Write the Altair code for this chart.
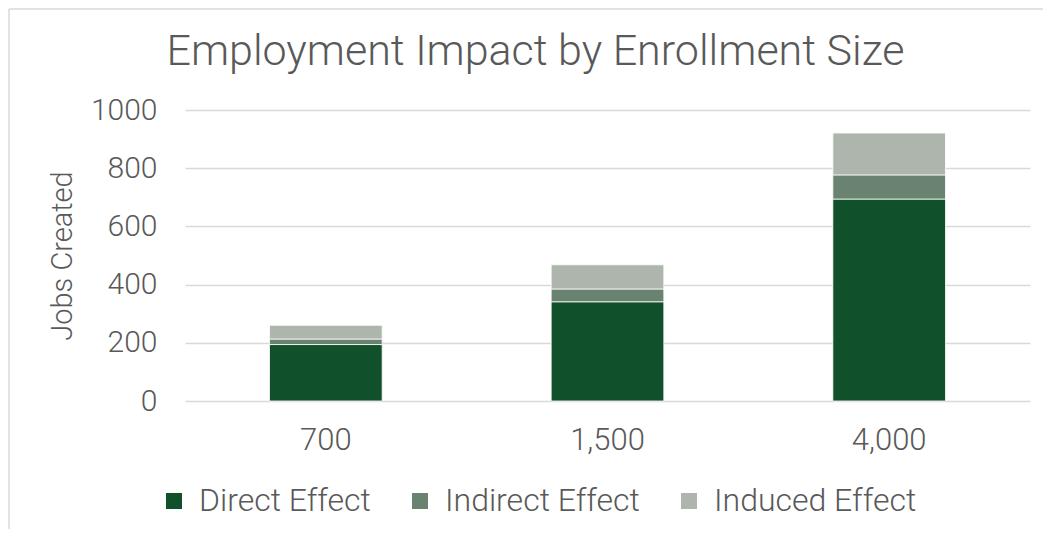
import altair as alt
import pandas as pd

enrollment = ["700", "1,500", "4,000"]
series = ["Direct Effect", "Indirect Effect", "Induced Effect"]
direct = [194, 341, 694]
indirect = [19, 44, 83]
induced = [47, 83, 144]
colors = ["#10512B", "#6A8270", "#ADB5AD"]

rows = []
for i, e in enumerate(enrollment):
    for k, (s, vals) in enumerate(zip(series, [direct, indirect, induced])):
        rows.append({"Enrollment": e, "Effect": s, "Jobs": vals[i], "order": k})
df = pd.DataFrame(rows)

FONT = "Roboto"
TXT = "#595959"

bars = alt.Chart(df).mark_bar(stroke="white", strokeWidth=0.8).encode(
    x=alt.X("Enrollment:N", sort=enrollment, title=None,
            scale=alt.Scale(paddingInner=0.6, paddingOuter=0.3),
            axis=alt.Axis(labelAngle=0, labelFontSize=31, labelColor=TXT, labelFont=FONT,
                          labelFontWeight=300, labelPadding=24, ticks=False, domain=False,
                          grid=False)),
    y=alt.Y("Jobs:Q", stack="zero", title="Jobs Created",
            scale=alt.Scale(domain=[0, 1000]),
            axis=alt.Axis(values=[0, 200, 400, 600, 800, 1000], format="d",
                          labelFontSize=30,
                          labelColor=TXT, labelFont=FONT, labelFontWeight=300,
                          labelPadding=28, ticks=False, domain=False,
                          gridColor="#D9D9D9", gridWidth=1.5,
                          titleFontSize=29, titleFont=FONT, titleFontWeight=300,
                          titleColor=TXT, titlePadding=13)),
    color=alt.Color("Effect:N", sort=series,
                    scale=alt.Scale(domain=series, range=colors),
                    legend=alt.Legend(title=None, orient="none", direction="horizontal",
                                      legendX=-27, legendY=375, symbolType="square",
                                      symbolSize=256, symbolStrokeWidth=0,
                                      labelFontSize=32, labelFont=FONT, labelFontWeight=300,
                                      labelColor=TXT, labelOffset=9, columnPadding=33,
                                      labelLimit=0)),
    order=alt.Order("order:Q"),
)

one = pd.DataFrame({"b": [0]})
border_left = alt.Chart(one).mark_rule(color="#D9D9D9", strokeWidth=1.5).encode(
    x=alt.value(-176), y=alt.value(-101), y2=alt.value(430)
)
border_top = alt.Chart(one).mark_rule(color="#D9D9D9", strokeWidth=1.5).encode(
    x=alt.value(-176), x2=alt.value(858), y=alt.value(-101)
)

chart = alt.layer(border_left, border_top, bars).properties(
    width=845, height=291,
    title=alt.TitleParams("Employment Impact by Enrollment Size", fontSize=43, font=FONT,
                          fontWeight=300, color=TXT, anchor="middle", frame="group",
                          dx=-72, offset=-66),
    autosize=alt.AutoSizeParams(type="none"),
    padding={"left": 177, "top": 102, "right": 13, "bottom": 128},
).configure_view(stroke=None)

chart.save("out.html", embed_options={"renderer": "svg", "actions": False})
